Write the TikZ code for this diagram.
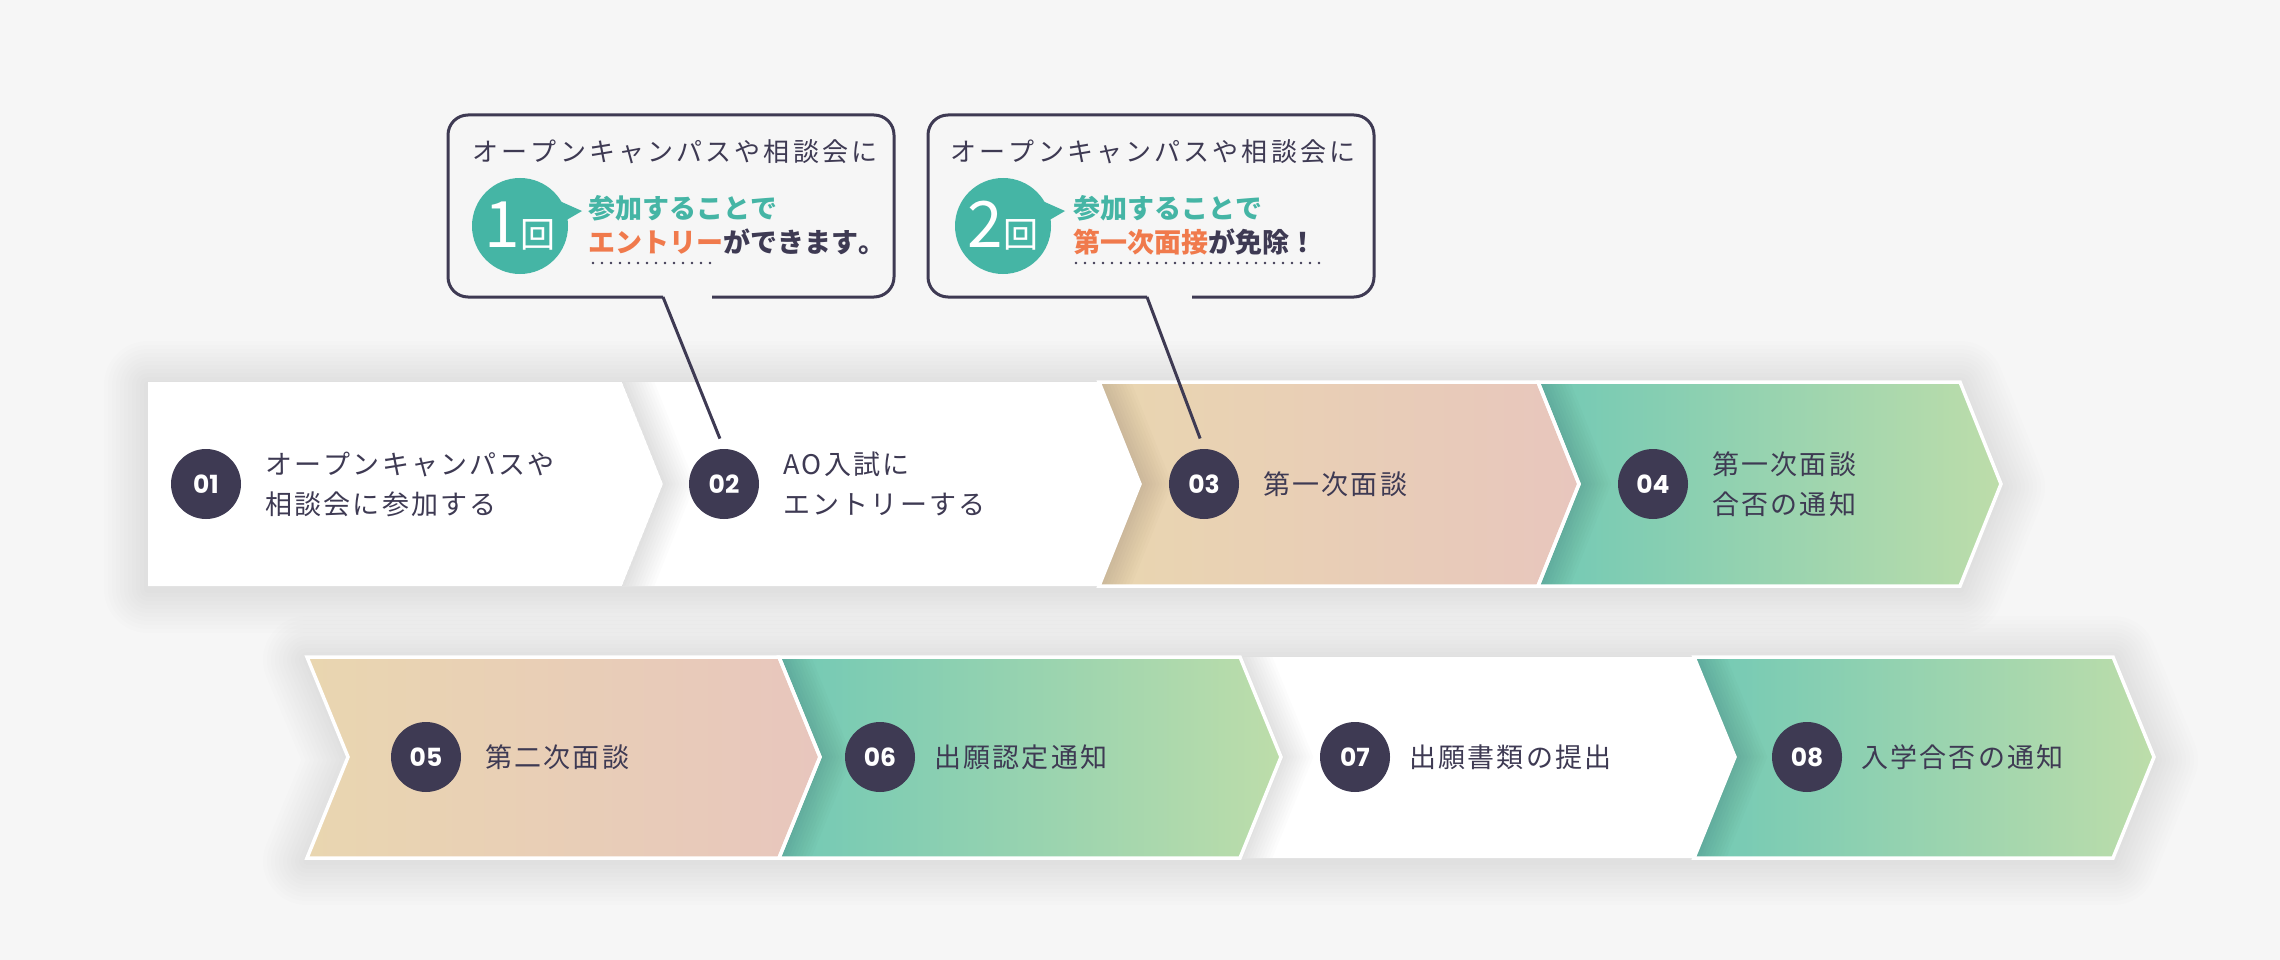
\documentclass[tikz,border=0pt]{standalone}
\usepackage{fontspec}
\setmainfont{Noto Sans CJK JP}[Kerning=Off]
\newfontfamily\jpsp{Noto Sans CJK JP}[LetterSpace=8,Kerning=Off]
\newfontfamily\jpwide{Noto Sans CJK JP}[LetterSpace=12,Kerning=Off]
\newfontfamily\numfont{Poppins}
\definecolor{bg}{HTML}{F6F6F6}
\definecolor{ink}{HTML}{3E3A53}
\definecolor{tealc}{HTML}{45B5A5}
\definecolor{accent}{HTML}{F07A4C}
\definecolor{tanL}{HTML}{E9D6B0}
\definecolor{tanR}{HTML}{E8C6BD}
\definecolor{grnL}{HTML}{72C9B5}
\definecolor{grnR}{HTML}{BDDDAA}
\tikzset{
 numc/.style={circle, fill=ink, minimum size=70pt, inner sep=0pt, text=white, font=\numfont\bfseries\fontsize{25}{25}\selectfont},
 lbl/.style={anchor=west, text=ink, align=left, inner sep=0pt, font=\jpsp\fontsize{27}{40}\selectfont},
 callbox/.style={draw=ink, line width=3pt, rounded corners=20pt},
 tail/.style={draw=ink, line width=3pt, shorten >=11pt},
 bubble/.style={circle, fill=tealc, minimum size=96pt, inner sep=0pt, text=white},
 ctop/.style={text=ink, font=\jpwide\fontsize{26}{26}\selectfont, inner sep=0pt},
 cline/.style={anchor=west, inner sep=0pt, font=\bfseries\fontsize{27}{27}\selectfont, text=ink},
 dots/.style={draw=ink, line width=2.6pt, line cap=round, dash pattern=on 0pt off 9pt},
 wbox/.style={fill=white},
 tbox/.style={left color=tanL, right color=tanR},
 gbox/.style={left color=grnL, right color=grnR},
 rowshadow/.style={draw=black, opacity=0.006, line join=round},
 notchshadow/.style={draw=black, opacity=0.011},
 whiteedge/.style={draw=white, line width=3.5pt, line join=miter},
}
\def\boxlist{148/622/382/484/586/0/0/wbox, 622/1099/382/484/586/41/1/wbox, 1099/1538/382/484/586/41/1/tbox, 1538/1960/382/484/586/41/1/gbox, 307/779/657/757/858/41/0/tbox, 779/1240/657/757/858/41/1/gbox, 1240/1694/657/757/858/41/1/wbox, 1694/2113/657/757/858/41/1/gbox}
\begin{document}
\begin{tikzpicture}[x=1pt,y=-1pt]
\fill[bg] (0,0) rectangle (2280,960);
\useasboundingbox (0,0) rectangle (2280,960);
% soft shadows around the two rows
\foreach \w in {8,16,...,88}{
  \draw[rowshadow, line width=\w pt, yshift=-3pt] (148,382) -- (1960,382) -- (2001,484) -- (1960,586) -- (148,586) -- cycle;
  \draw[rowshadow, line width=\w pt, yshift=-3pt] (307,657) -- (2113,657) -- (2154,757) -- (2113,858) -- (307,858) -- (349,757) -- cycle;
}
% chevron fills
\foreach \xl/\xr/\yt/\ym/\yb/\dn/\sh/\st in \boxlist{
  \path[\st] (\xl,\yt) -- (\xr,\yt) -- (\xr+41,\ym) -- (\xr,\yb) -- (\xl,\yb) -- (\xl+\dn,\ym) -- cycle;
}
% shadows cast by the tip of the previous chevron
\foreach \xl/\xr/\yt/\ym/\yb/\dn/\sh/\st in \boxlist{
  \ifnum\sh>0
  \begin{scope}
    \clip (\xl,\yt) -- (\xr,\yt) -- (\xr+41,\ym) -- (\xr,\yb) -- (\xl,\yb) -- (\xl+\dn,\ym) -- cycle;
    \foreach \w in {6,12,...,60}
      \draw[notchshadow, line width=\w pt] (\xl,\yt) -- (\xl+\dn,\ym) -- (\xl,\yb);
  \end{scope}
  \fi
}
% white edges of the coloured chevrons
\foreach \xl/\xr/\yt/\ym/\yb/\dn in {1099/1538/382/484/586/41, 1538/1960/382/484/586/41, 307/779/657/757/858/41, 779/1240/657/757/858/41, 1694/2113/657/757/858/41}{
  \draw[whiteedge] (\xl,\yt) -- (\xr,\yt) -- (\xr+41,\ym) -- (\xr,\yb) -- (\xl,\yb) -- (\xl+\dn,\ym) -- cycle;
}
% number circles and labels
\node[numc] (n1) at (206,484) {01};
\node[numc] (n2) at (724,484) {02};
\node[numc] (n3) at (1204,484) {03};
\node[numc] (n4) at (1653,484) {04};
\node[numc] (n5) at (426,757) {05};
\node[numc] (n6) at (880,757) {06};
\node[numc] (n7) at (1355,757) {07};
\node[numc] (n8) at (1807,757) {08};
\node[lbl] (l1) at ([xshift=24pt]n1.east) {オープンキャンパスや\\相談会に参加する};
\node[lbl] (l2) at ([xshift=24pt]n2.east) {AO入試に\\エントリーする};
\node[lbl] (l3) at ([xshift=24pt]n3.east) {第一次面談};
\node[lbl] (l4) at ([xshift=24pt]n4.east) {第一次面談\\合否の通知};
\node[lbl] (l5) at ([xshift=24pt]n5.east) {第二次面談};
\node[lbl] (l6) at ([xshift=19pt]n6.east) {出願認定通知};
\node[lbl] (l7) at ([xshift=19pt]n7.east) {出願書類の提出};
\node[lbl] (l8) at ([xshift=19pt]n8.east) {入学合否の通知};
% callout 1
\coordinate (t1s) at (663,297);
\draw[callbox] (t1s) -- (448,297) -- (448,115) -- (894,115) -- (894,297) -- (712,297);
\draw[tail] (t1s) -- (n2.north);
\fill[tealc] (555,199) -- (582,211) -- (558,225) -- cycle;
\node[bubble] (b1) at (520,226) {{\fontsize{64}{64}\selectfont 1}{\fontsize{35}{35}\selectfont 回}};
\node[ctop] (c1t) at (675,152) {オープンキャンパスや相談会に};
\node[cline, text=tealc] (c1a) at (588,208) {参加することで};
\node[cline] (c1b) at (588,242) {\textcolor{accent}{エントリー}ができます。};
\draw[dots] (593,263) -- (718,263);
% callout 2
\coordinate (t2s) at (1147,297);
\draw[callbox] (t2s) -- (928,297) -- (928,115) -- (1374,115) -- (1374,297) -- (1192,297);
\draw[tail] (t2s) -- (n3.north);
\fill[tealc] (1038,199) -- (1065,211) -- (1041,225) -- cycle;
\node[bubble] (b2) at (1003,226) {{\fontsize{64}{64}\selectfont 2}{\fontsize{35}{35}\selectfont 回}};
\node[ctop] (c2t) at (1153,152) {オープンキャンパスや相談会に};
\node[cline, text=tealc] (c2a) at (1073,208) {参加することで};
\node[cline] (c2b) at (1073,242) {\textcolor{accent}{第一次面接}が免除！};
\draw[dots] (1076,263) -- (1327,263);
\end{tikzpicture}
\end{document}
